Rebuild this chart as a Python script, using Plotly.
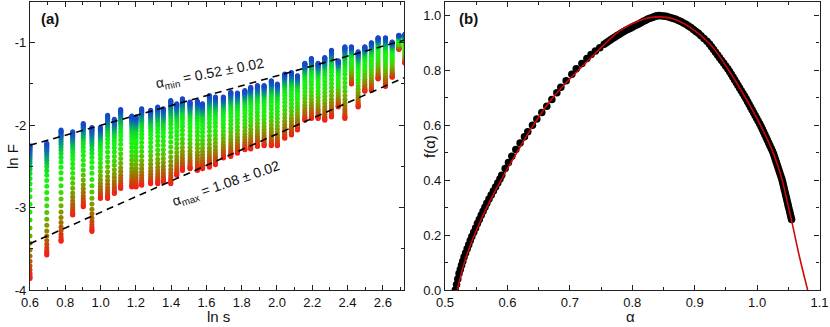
import plotly.graph_objects as go

# ---------------- Panel (a) data ----------------
col_x = [0.600, 0.695, 0.776, 0.842, 0.902, 0.951, 0.999, 1.040, 1.078, 1.114,
         1.177, 1.201, 1.233, 1.284, 1.324, 1.356, 1.398, 1.432, 1.464, 1.507,
         1.549, 1.578, 1.617, 1.651, 1.696, 1.738, 1.776, 1.818, 1.851, 1.889,
         1.927, 1.968, 2.002, 2.044, 2.082, 2.116, 2.158, 2.195, 2.233, 2.271,
         2.309, 2.347, 2.385, 2.422, 2.460, 2.498, 2.535, 2.573, 2.615, 2.653,
         2.691, 2.725]
col_top = [-2.25, -2.22, -2.06, -2.08, -1.98, -2.03, -2.03, -1.88, -1.93, -1.81,
           -1.89, -1.90, -1.80, -1.82, -1.78, -1.80, -1.70, -1.74, -1.68, -1.72,
           -1.71, -1.74, -1.64, -1.66, -1.66, -1.60, -1.61, -1.58, -1.54, -1.52,
           -1.52, -1.46, -1.50, -1.38, -1.36, -1.40, -1.25, -1.19, -1.25, -1.18,
           -1.09, -1.22, -1.05, -1.05, -1.11, -1.05, -1.00, -0.94, -0.94, -0.99,
           -0.91, -0.90]
col_bot = [-3.86, -3.575, -3.41, -3.09, -2.99, -3.29, -2.89, -2.89, -2.83, -2.77,
           -2.75, -2.75, -2.73, -2.71, -2.71, -2.69, -2.71, -2.61, -2.55, -2.53,
           -2.55, -2.53, -2.51, -2.48, -2.40, -2.38, -2.34, -2.30, -2.29, -2.26,
           -2.25, -2.25, -2.25, -2.16, -2.12, -2.06, -1.94, -1.92, -1.92, -1.94,
           -1.90, -1.78, -1.92, -1.50, -1.78, -1.59, -1.58, -1.44, -1.53, -1.42,
           -1.08, -1.25]
# relative position of each q-point inside a column (0 = top, 1 = bottom)
q_frac = [0, 0.008, 0.016, 0.025, 0.035, 0.046, 0.058, 0.072, 0.088, 0.106,
          0.127, 0.151, 0.178, 0.21, 0.246, 0.287, 0.333, 0.384, 0.44, 0.5,
          0.56, 0.62, 0.68, 0.735, 0.785, 0.83, 0.87, 0.905, 0.935, 0.96,
          0.978, 0.99, 1.0]

fit_min_x = [0.6, 2.72]
fit_min_y = [-2.243, -0.97]
fit_max_x = [0.6, 2.72]
fit_max_y = [-3.438, -1.424]

# ---------------- Panel (b) data ----------------
spec_alpha = [0.5165, 0.5185, 0.5205, 0.5225, 0.5245, 0.5265, 0.5285, 0.5305, 0.533, 0.5355,
              0.538, 0.5405, 0.543, 0.546, 0.549, 0.552, 0.555, 0.558, 0.561, 0.564,
              0.567, 0.5705, 0.574, 0.5775, 0.581, 0.5845, 0.588,
              0.5909, 0.5963, 0.6016, 0.607, 0.6134, 0.6203, 0.6273, 0.6326, 0.6401, 0.6471,
              0.6551, 0.6631, 0.6712, 0.6792, 0.6856, 0.6941, 0.7032, 0.7102, 0.7193, 0.7273,
              0.734, 0.741, 0.748, 0.755, 0.7585, 0.762, 0.7655, 0.769, 0.7725, 0.776,
              0.7795, 0.783, 0.7865, 0.790, 0.7935, 0.797, 0.8005, 0.804, 0.8075, 0.811,
              0.8145, 0.818, 0.8215, 0.825, 0.8285, 0.832, 0.835, 0.838, 0.8405, 0.843,
              0.846, 0.850, 0.854, 0.858, 0.862, 0.866, 0.870, 0.874, 0.878, 0.882,
              0.886, 0.890, 0.894, 0.898, 0.902, 0.906,
              0.9102, 0.9149, 0.9196, 0.9236, 0.9269, 0.9302, 0.9334, 0.9367, 0.9399, 0.9432,
              0.9465, 0.9497, 0.9530, 0.9559, 0.9586, 0.9613, 0.9639, 0.9666, 0.9693, 0.9719,
              0.9746, 0.9773, 0.9800, 0.9825, 0.9849, 0.9873, 0.9897, 0.9921, 0.9945, 0.9969,
              0.9993, 1.0017, 1.0042, 1.0064, 1.0084, 1.0105, 1.0125, 1.0146, 1.0166, 1.0186,
              1.0206, 1.0227, 1.0247, 1.0264, 1.0279, 1.0293, 1.0308, 1.0322, 1.0337, 1.0351,
              1.0366, 1.0380, 1.0395, 1.0407, 1.0418, 1.0428, 1.0438, 1.0449, 1.0459, 1.0470,
              1.0480, 1.0491, 1.0501, 1.0512, 1.0523, 1.0534, 1.0544, 1.0553]
spec_f = [0.00, 0.02, 0.04, 0.06, 0.075, 0.09, 0.105, 0.12, 0.135, 0.15,
          0.165, 0.18, 0.195, 0.21, 0.226, 0.242, 0.257, 0.272, 0.287, 0.301,
          0.316, 0.331, 0.346, 0.36, 0.375, 0.389, 0.404,
          0.418, 0.442, 0.464, 0.487, 0.511, 0.535, 0.558, 0.576, 0.600, 0.622,
          0.646, 0.669, 0.693, 0.718, 0.738, 0.762, 0.785, 0.805, 0.824, 0.843,
          0.857, 0.870, 0.882, 0.894, 0.8995, 0.905, 0.9105, 0.916, 0.921, 0.926,
          0.931, 0.936, 0.9405, 0.945, 0.949, 0.953, 0.9575, 0.962, 0.9655, 0.969,
          0.9735, 0.978, 0.982, 0.986, 0.989, 0.992, 0.9945, 0.997, 0.998, 0.999,
          0.998, 0.997, 0.996, 0.994, 0.991, 0.988, 0.985, 0.981, 0.977, 0.972,
          0.967, 0.961, 0.955, 0.948, 0.941, 0.934,
          0.925, 0.915, 0.905, 0.895, 0.885, 0.875, 0.865, 0.855, 0.845, 0.835,
          0.825, 0.815, 0.805, 0.795, 0.785, 0.775, 0.765, 0.755, 0.745, 0.735,
          0.725, 0.715, 0.705, 0.695, 0.685, 0.675, 0.665, 0.655, 0.645, 0.635,
          0.625, 0.615, 0.605, 0.595, 0.585, 0.575, 0.565, 0.555, 0.545, 0.535,
          0.525, 0.515, 0.505, 0.495, 0.485, 0.475, 0.465, 0.455, 0.445, 0.435,
          0.425, 0.415, 0.405, 0.395, 0.385, 0.375, 0.365, 0.355, 0.345, 0.335,
          0.325, 0.315, 0.305, 0.295, 0.285, 0.275, 0.265, 0.257]

fit_alpha = [0.5198, 0.531, 0.547, 0.5668, 0.5898, 0.615, 0.6417, 0.6738, 0.727, 0.781,
             0.813, 0.842, 0.872, 0.9225, 0.9546, 0.9813, 1.0054, 1.0257, 1.0402, 1.048,
             1.056, 1.068, 1.081]
fit_f = [0.0, 0.1, 0.2, 0.3, 0.4, 0.5, 0.6, 0.703, 0.830, 0.945,
         0.982, 0.994, 0.982, 0.9, 0.8, 0.7, 0.6, 0.5, 0.4, 0.325,
         0.245, 0.12, 0.0]

# ---------------- build figure ----------------
xs, ys, cs = [], [], []
for x, t, b in zip(col_x, col_top, col_bot):
    for fr in q_frac[::-1]:
        xs.append(x)
        ys.append(t + (b - t) * fr)
        cs.append(fr)

cscale = [[0, 'rgb(22,72,200)'], [0.05, 'rgb(15,105,180)'], [0.12, 'rgb(5,160,120)'],
          [0.2, 'rgb(15,215,45)'], [0.32, 'rgb(20,245,20)'], [0.52, 'rgb(45,228,10)'],
          [0.66, 'rgb(100,185,0)'], [0.78, 'rgb(140,135,0)'], [0.9, 'rgb(195,75,10)'],
          [1, 'rgb(250,25,25)']]

FONT = 'Liberation Sans, Arial, sans-serif'

fig = go.Figure()
fig.add_trace(go.Scatter(x=xs, y=ys, mode='markers', xaxis='x', yaxis='y',
                         marker=dict(size=5, color=cs, colorscale=cscale, cmin=0, cmax=1,
                                     line=dict(width=0)),
                         showlegend=False, hoverinfo='skip'))
for fx, fy in ((fit_min_x, fit_min_y), (fit_max_x, fit_max_y)):
    fig.add_trace(go.Scatter(x=fx, y=fy, mode='lines', xaxis='x', yaxis='y',
                             line=dict(color='black', width=1.6, dash='7px,5px'),
                             showlegend=False, hoverinfo='skip'))

fig.add_trace(go.Scatter(x=spec_alpha, y=spec_f, mode='markers', xaxis='x2', yaxis='y2',
                         marker=dict(size=7.5, color='black', line=dict(width=0)),
                         showlegend=False, hoverinfo='skip'))
fig.add_trace(go.Scatter(x=fit_alpha, y=fit_f, mode='lines', xaxis='x2', yaxis='y2',
                         line=dict(color='rgb(205,10,10)', width=1.6, shape='spline', smoothing=1.0),
                         showlegend=False, hoverinfo='skip', cliponaxis=True))

W, H = 830, 327
def px(xp):
    return xp / W
def py(yp):
    return 1 - yp / H

axis_common = dict(showline=True, linecolor='#222', linewidth=1.2, mirror='ticks',
                   ticks='inside', ticklen=5, tickwidth=1, tickcolor='#222',
                   showgrid=False, zeroline=False, automargin=False,
                   tickfont=dict(family=FONT, size=13, color='#111'))

xa_ticks = [0.6, 0.8, 1.0, 1.2, 1.4, 1.6, 1.8, 2.0, 2.2, 2.4, 2.6]
ya_ticks = [-4, -3, -2, -1]
xb_ticks = [0.5, 0.6, 0.7, 0.8, 0.9, 1.0, 1.1]
yb_ticks = [0.0, 0.2, 0.4, 0.6, 0.8, 1.0]

fig.update_layout(
    template='none',
    width=W, height=H, margin=dict(l=0, r=0, t=0, b=0, pad=0),
    paper_bgcolor='white', plot_bgcolor='white',
    font=dict(family=FONT, size=13, color='#111'),
    xaxis=dict(domain=[px(30), px(404)], range=[0.6, 2.72], anchor='y',
               tickvals=xa_ticks, ticktext=['%.1f' % v for v in xa_ticks],
               minor=dict(ticks='inside', ticklen=3, tickcolor='#222',
                          tickvals=[0.7, 0.9, 1.1, 1.3, 1.5, 1.7, 1.9, 2.1, 2.3, 2.5, 2.7]),
               **axis_common),
    yaxis=dict(domain=[py(290), py(1.5)], range=[-4, -0.5], anchor='x',
               tickvals=ya_ticks, ticktext=['-4', '-3', '-2', '-1'],
               minor=dict(ticks='inside', ticklen=3, tickcolor='#222',
                          tickvals=[-3.5, -2.5, -1.5]),
               **axis_common),
    xaxis2=dict(domain=[px(445), px(819.5)], range=[0.5, 1.1], anchor='y2',
                tickvals=xb_ticks, ticktext=['%.1f' % v for v in xb_ticks],
                minor=dict(ticks='inside', ticklen=3, tickcolor='#222',
                           tickvals=[0.55, 0.65, 0.75, 0.85, 0.95, 1.05]),
                **axis_common),
    yaxis2=dict(domain=[py(290), py(1.5)], range=[0, 1.05], anchor='x2',
                tickvals=yb_ticks, ticktext=['%.1f' % v for v in yb_ticks],
                minor=dict(ticks='inside', ticklen=3, tickcolor='#222',
                           tickvals=[0.1, 0.3, 0.5, 0.7, 0.9]),
                **axis_common),
)

ann = [
    dict(text='<b>(a)</b>', x=px(50), y=py(18), size=15),
    dict(text='<b>(b)</b>', x=px(468), y=py(18), size=15),
    dict(text='ln s', x=px(218), y=py(316), size=15),
    dict(text='α', x=px(630), y=py(316), size=15),
    dict(text='ln F', x=px(13), y=py(157), textangle=-90, size=15),
    dict(text='f(α)', x=px(429), y=py(146), textangle=-90, size=15),
]
for a in ann:
    size = a.pop('size')
    fig.add_annotation(xref='paper', yref='paper', showarrow=False, xanchor='center',
                       yanchor='middle', font=dict(family=FONT, size=size, color='#111'), **a)

fig.add_annotation(xref='x', yref='y', x=1.618, y=-1.38, showarrow=False,
                   text='α<sub>min</sub> = 0.52 ± 0.02', textangle=-11,
                   font=dict(family=FONT, size=14, color='#111'))
fig.add_annotation(xref='x', yref='y', x=1.714, y=-2.716, showarrow=False,
                   text='α<sub>max</sub> = 1.08 ± 0.02', textangle=-19,
                   font=dict(family=FONT, size=14, color='#111'))

fig.write_html('out.html', config={'displayModeBar': False},
               post_script="document.body.style.margin='0';document.body.style.padding='0';")
